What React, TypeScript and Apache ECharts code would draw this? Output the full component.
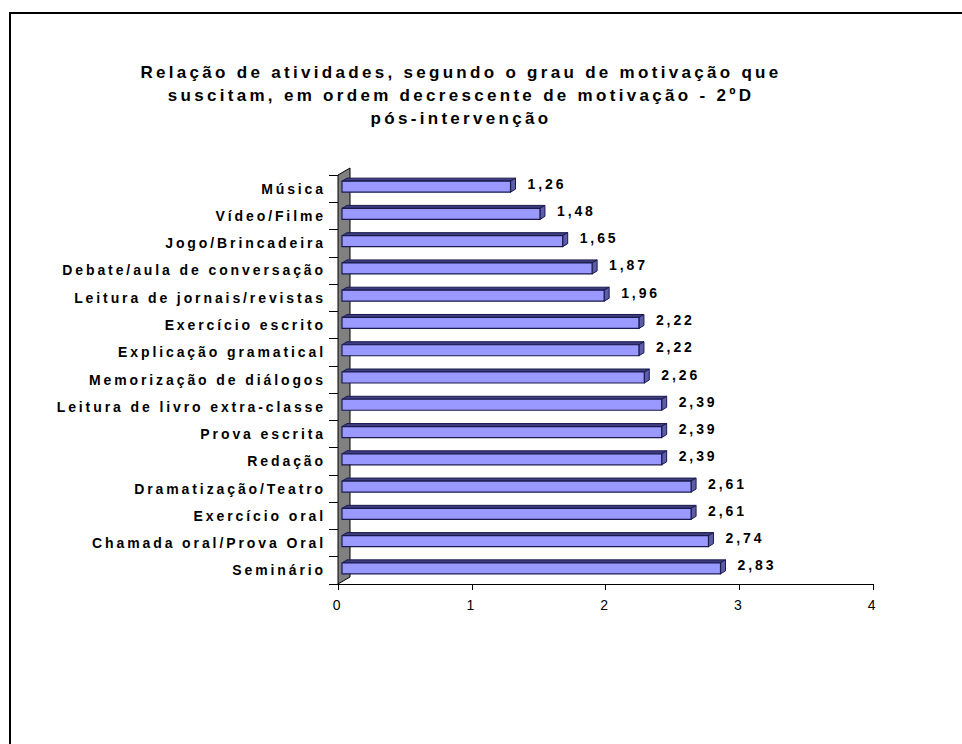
import React, { useEffect, useRef } from "react";
import * as echarts from "echarts";

const titleLines = [
  "Relação de atividades, segundo o grau de motivação que",
  "suscitam, em ordem decrescente de motivação - 2ºD",
  "pós-intervenção",
];

const categories = [
  "Música",
  "Vídeo/Filme",
  "Jogo/Brincadeira",
  "Debate/aula de conversação",
  "Leitura de jornais/revistas",
  "Exercício escrito",
  "Explicação gramatical",
  "Memorização de diálogos",
  "Leitura de livro extra-classe",
  "Prova escrita",
  "Redação",
  "Dramatização/Teatro",
  "Exercício oral",
  "Chamada oral/Prova Oral",
  "Seminário",
];

const values = [1.26, 1.48, 1.65, 1.87, 1.96, 2.22, 2.22, 2.26, 2.39, 2.39, 2.39, 2.61, 2.61, 2.74, 2.83];

const xTicks = { min: 0, max: 4, interval: 1 };

const FONT = "Arial, 'Liberation Sans', sans-serif";

export default function App() {
  const ref = useRef<HTMLDivElement>(null);

  useEffect(() => {
    if (!ref.current) return;
    const chart = echarts.init(ref.current, undefined, { renderer: "svg" });

    const option: any = {
      animation: false,
      backgroundColor: "#ffffff",
      grid: { left: 338, right: 89, top: 175, bottom: 160, containLabel: false },
      xAxis: {
        type: "value",
        min: xTicks.min,
        max: xTicks.max,
        interval: xTicks.interval,
        axisLine: { show: true, lineStyle: { color: "#000", width: 1 } },
        axisTick: { show: true, length: 6, lineStyle: { color: "#000" } },
        axisLabel: { color: "#000", fontSize: 14, fontFamily: FONT, margin: 14 },
        splitLine: { show: false },
      },
      yAxis: {
        type: "category",
        inverse: true,
        data: categories,
        axisLine: { show: true, lineStyle: { color: "#000", width: 1 } },
        axisTick: { show: true, length: 9, alignWithLabel: false, lineStyle: { color: "#000" } },
        axisLabel: {
          color: "#000",
          fontSize: 14,
          fontWeight: "bold",
          fontFamily: FONT,
          margin: 12,
          padding: [0, 0, 3, 0],
        },
        splitLine: { show: false },
      },
      graphic: [
        {
          type: "rect",
          z: -10,
          shape: { x: 10, y: 13, width: 1000, height: 800 },
          style: { fill: "none", stroke: "#000", lineWidth: 2 },
        },
        {
          type: "text",
          x: 461,
          y: 61,
          style: {
            text: titleLines.join("\n"),
            align: "center",
            verticalAlign: "top",
            textAlign: "center",
            textVerticalAlign: "top",
            font: `bold 17px ${FONT}`,
            lineHeight: 23,
            fill: "#000",
          },
        },
      ],
      series: [
        {
          type: "custom",
          name: "wall",
          z: 1,
          data: [[0, 0]],
          encode: { x: 0, y: 1 },
          renderItem: (params: any) => {
            const cs = params.coordSys;
            const x = cs.x;
            const y = cs.y;
            const h = cs.height;
            return {
              type: "polygon",
              shape: {
                points: [
                  [x, y + h],
                  [x, y],
                  [x + 12, y - 7],
                  [x + 12, y + h - 7],
                ],
              },
              style: { fill: "#808080", stroke: "#000", lineWidth: 1 },
              silent: true,
            };
          },
        },
        {
          type: "custom",
          name: "bars",
          z: 2,
          data: values.map((v, i) => [v, i]),
          encode: { x: 0, y: 1 },
          renderItem: (params: any, api: any) => {
            const v = api.value(0);
            const i = api.value(1);
            const s = api.coord([0, i]);
            const e = api.coord([v, i]);
            const yc = s[1] - 2;
            const x0 = s[0] + 4;
            const x1 = e[0] + 4;
            const yT = yc - 5.5;
            const yB = yc + 5.5;
            const dx = 5;
            const dy = -3;
            const stroke = "#1a1a4d";
            return {
              type: "group",
              children: [
                {
                  type: "polygon",
                  shape: { points: [[x0, yT], [x0 + dx, yT + dy], [x1 + dx, yT + dy], [x1, yT]] },
                  style: { fill: "#3d3d80", stroke, lineWidth: 1 },
                },
                {
                  type: "polygon",
                  shape: { points: [[x1, yT], [x1 + dx, yT + dy], [x1 + dx, yB + dy], [x1, yB]] },
                  style: { fill: "#5c5ca8", stroke, lineWidth: 1 },
                },
                {
                  type: "rect",
                  shape: { x: x0, y: yT, width: x1 - x0, height: yB - yT },
                  style: { fill: "#9999ff", stroke, lineWidth: 1.2 },
                },
                {
                  type: "text",
                  x: e[0] + 21,
                  y: s[1] - 5,
                  style: {
                    text: v.toFixed(2).replace(".", ","),
                    align: "left",
                    verticalAlign: "middle",
                    font: `bold 14px ${FONT}`,
                    fill: "#000",
                  },
                },
              ],
            };
          },
        },
      ],
    };

    chart.setOption(option);
    return () => chart.dispose();
  }, []);

  return (
    <>
      <style>{`.chartbox text { letter-spacing: 2.9px; } .chartbox text[style*="17px"] { letter-spacing: 3.3px; }`}</style>
      <div
        ref={ref}
        className="chartbox"
        style={{ position: "fixed", left: 0, top: 0, width: 962, height: 744 }}
      />
    </>
  );
}
